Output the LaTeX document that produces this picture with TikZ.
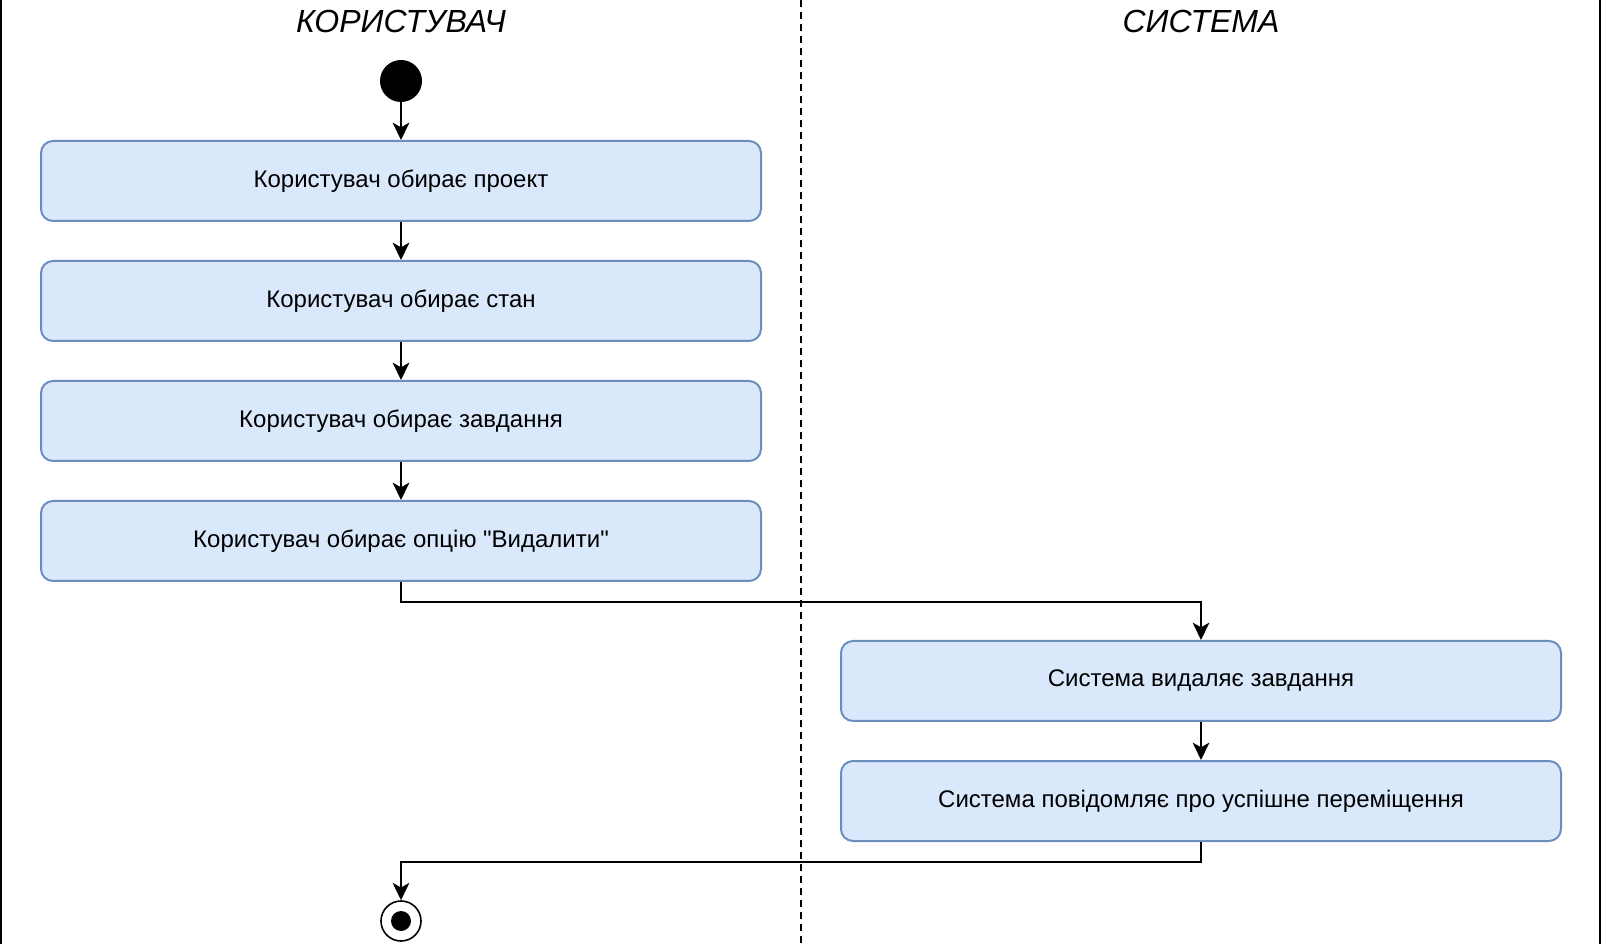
\documentclass[tikz,border=0pt]{standalone}
\usepackage{fontspec}
\setmainfont{Liberation Sans}[Ligatures=TeXOff]
\usetikzlibrary{arrows.meta}
\definecolor{boxline}{RGB}{108,142,191}
\definecolor{boxfill}{RGB}{218,232,252}

\begin{document}
\begin{tikzpicture}[x=0.75pt,y=0.75pt,yscale=-1,xscale=1,
  actbox/.style={draw=boxline, fill=boxfill, rounded corners=9pt, line width=1.5pt,
    minimum width=540pt, minimum height=60pt, inner sep=0pt, font=\fontsize{18}{22}\selectfont},
  flow/.style={line width=1.5pt, -{Stealth[length=13pt,width=12.5pt,inset=3.5pt]}},
  lanetitle/.style={font=\fontsize{24}{28}\selectfont\itshape}]
\useasboundingbox (0,0) rectangle (1604,944);

% Lanes
\draw [line width=1.5pt] (1,0) -- (1,944) ;
\draw [line width=1.5pt] (1600,0) -- (1600,944) ;
\draw [line width=1.5pt, dash pattern=on 5.25pt off 3.75pt] (801,0) -- (801,944) ;
% Text Node
\node [lanetitle] (userlane) at (401,21) {КОРИСТУВАЧ};
% Text Node
\node [lanetitle] (syslane) at (1201,21) {СИСТЕМА};

% Initial
\node [circle, fill=black, minimum size=31.5pt, inner sep=0pt] (start) at (401,81) {};
% Text Node
\node [actbox] (project) at (401,181) {Користувач обирає проект};
% Text Node
\node [actbox] (state) at (401,301) {Користувач обирає стан};
% Text Node
\node [actbox] (task) at (401,421) {Користувач обирає завдання};
% Text Node
\node [actbox] (delopt) at (401,541) {Користувач обирає опцію "Видалити"};
% Text Node
\node [actbox] (sysdel) at (1201,681) {Система видаляє завдання};
% Text Node
\node [actbox] (sysmsg) at (1201,801) {Система повідомляє про успішне переміщення};
% Final
\node [circle, draw, line width=1.2pt, minimum size=30pt, inner sep=0pt] (stop) at (401,921) {};
\node [circle, fill=black, minimum size=15pt, inner sep=0pt] (stopdot) at (stop) {};

% Connection
\draw [flow] (start) -- (project) ;
% Connection
\draw [flow] (project) -- (state) ;
% Connection
\draw [flow] (state) -- (task) ;
% Connection
\draw [flow] (task) -- (delopt) ;
% Connection
\draw [flow] (delopt.south) -- ++(0,20) -| (sysdel.north) ;
% Connection
\draw [flow] (sysdel) -- (sysmsg) ;
% Connection
\draw [flow] (sysmsg.south) -- ++(0,20) -| (stop.north) ;

\end{tikzpicture}
\end{document}
